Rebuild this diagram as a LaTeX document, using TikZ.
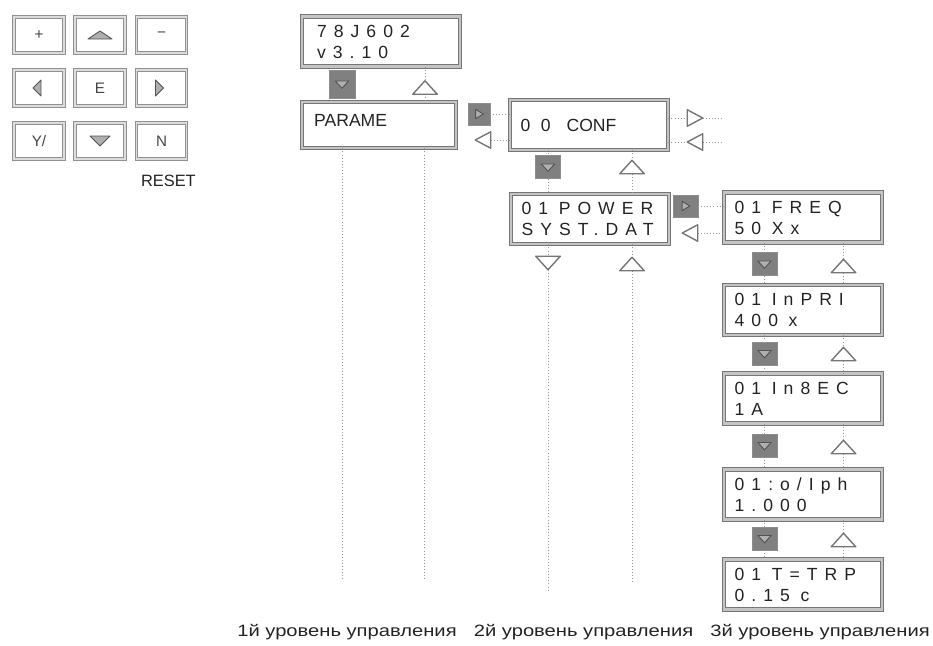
\documentclass[tikz,border=0pt]{standalone}
\usepackage{fontspec}
\setmainfont{Liberation Sans}
\newfontfamily\lcdfont[LetterSpace=40]{Liberation Sans}
\newfontfamily\capfont[FakeStretch=1.23]{Liberation Sans}
\usetikzlibrary{positioning}
\definecolor{cFrame}{RGB}{118,118,118}
\definecolor{cGap}  {RGB}{196,196,196}
\definecolor{cKey}  {RGB}{128,128,128}
\definecolor{cKeyTr}{RGB}{175,175,175}
\definecolor{cDot}  {RGB}{150,150,150}
\definecolor{cInk}  {RGB}{35,35,35}

%% blank between letterspaced groups
\newcommand\lsp{\hspace{0.6em}}
%% triangle marks drawn on empty named nodes
\newcommand\triU[1]{\draw[tri] (#1.south west) -- (#1.south east) -- (#1.north) -- cycle;}
\newcommand\triD[1]{\draw[tri] (#1.north west) -- (#1.north east) -- (#1.south) -- cycle;}
\newcommand\triL[1]{\draw[tri] (#1.north east) -- (#1.south east) -- (#1.west) -- cycle;}
\newcommand\triR[1]{\draw[tri] (#1.north west) -- (#1.south west) -- (#1.east) -- cycle;}
\newcommand\keyD[1]{\draw[ktri] ([shift={(-0.2cm,0.09cm)}]#1.center) -- ([shift={(0.2cm,0.09cm)}]#1.center) -- ([shift={(0cm,-0.13cm)}]#1.center) -- cycle;}
\newcommand\keyR[1]{\draw[ktri] ([shift={(-0.1cm,0.14cm)}]#1.center) -- ([shift={(-0.1cm,-0.14cm)}]#1.center) -- ([shift={(0.13cm,0cm)}]#1.center) -- cycle;}

\begin{document}
\begin{tikzpicture}[x=0.03cm, y=-0.03cm, font=\fontsize{15}{18}\selectfont]

%% ── shared styles ─────────────────────────────────────────────────────────
\tikzset{
  lcd/.style={
    rectangle, draw=cFrame, double=cGap, double distance=2.2pt, line width=0.7pt,
    minimum width=4.74cm, minimum height=1.5cm,
    text width=4.1cm, inner xsep=0pt, inner ysep=2pt, align=left,
    font=\lcdfont\fontsize{15}{18}\selectfont, text=cInk
  },
  pad/.style={
    rectangle, draw=cFrame!80, double=cGap!60, double distance=1.6pt, line width=0.6pt,
    minimum width=1.5cm, minimum height=1.08cm, inner sep=0pt,
    font=\fontsize{13}{15}\selectfont, text=cInk!85
  },
  gkey/.style={
    rectangle, fill=cKey, draw=cKey!90, line width=0.4pt, inner sep=0pt,
    minimum width=0.75cm, minimum height=0.69cm
  },
  vtri/.style={inner sep=0pt, minimum width=0.72cm, minimum height=0.39cm},
  htri/.style={inner sep=0pt, minimum width=0.45cm, minimum height=0.48cm},
  tri/.style ={draw=cFrame, fill=white, line width=1.2pt, line join=round},
  ktri/.style={draw=cFrame!70!black, fill=cKeyTr, line width=0.8pt, line join=round},
  dots/.style={cDot, dotted, line width=0.6pt},
  lvl/.style ={font=\capfont\fontsize{14}{16}\selectfont, text=cInk, inner sep=0pt},
}

\useasboundingbox (0,0) rectangle (933,645);

%% ── key pad ───────────────────────────────────────────────────────────────
\node[pad] (kPlus)  at ( 39, 35) {+};
\node[pad] (kUp)    at (100, 35) {};
\node[pad] (kMinus) at (161.5, 35) {−};
\node[pad] (kLeft)  at ( 39, 88) {};
\node[pad] (kEnt)   at (100, 88) {E};
\node[pad] (kRight) at (161.5, 88) {};
\node[pad] (kYes)   at ( 39,141) {Y/};
\node[pad] (kDown)  at (100,141) {};
\node[pad] (kNo)    at (161.5,141) {N};
\node[font=\fontsize{14}{16}\selectfont, text=cInk, anchor=east, inner sep=0pt]
  (reset) at (196,181) {RESET};

\draw[ktri] ([shift={(-12,4)}]kUp.center) -- ([shift={(12,4)}]kUp.center)
            -- ([shift={(0,-4)}]kUp.center) -- cycle;
\draw[ktri] ([shift={(-10,-5)}]kDown.center) -- ([shift={(10,-5)}]kDown.center)
            -- ([shift={(0,5)}]kDown.center) -- cycle;
\draw[ktri] ([shift={(2,-8)}]kLeft.center) -- ([shift={(2,8)}]kLeft.center)
            -- ([shift={(-6,0)}]kLeft.center) -- cycle;
\draw[ktri] ([shift={(-6,-8)}]kRight.center) -- ([shift={(-6,8)}]kRight.center)
            -- ([shift={(2,0)}]kRight.center) -- cycle;

%% ══════════════════════════════════════════════════════════════════════════
%% LEVEL 1
%% ══════════════════════════════════════════════════════════════════════════
\node[lcd]                 (dVer) at (381, 41.5) {\hspace{0.25em}78J602\\\hspace{0.25em}v3.10};
\node[lcd, minimum width=4.62cm, minimum height=1.38cm]
                           (dPar) at (379,125)   {\normalfont\hspace{0.2em}PARAME\\[-10pt]\mbox{}};

\node[gkey, minimum width=0.78cm, minimum height=0.84cm] (sA) at (342, 84) {};
\node[vtri]                (uA)   at (425, 87.5) {};
\node[gkey, minimum width=0.66cm, minimum height=0.66cm] (rA) at (479,114) {};
\node[htri]                (lA)   at (483,140) {};

\coordinate (eA1) at (342,580);
\coordinate (eA2) at (424,580);

%% ══════════════════════════════════════════════════════════════════════════
%% LEVEL 2
%% ══════════════════════════════════════════════════════════════════════════
\node[lcd]                 (dConf) at (589,125) {0\lsp0\hspace{0.9em}{\normalfont CONF}};
\node[lcd]                 (dPow)  at (590,219) {01\lsp POWER\\SYST.DAT};

\node[htri]                (rC)   at (695,118) {};
\node[htri]                (lC)   at (695,142) {};
\coordinate (rCend) at (722,118);
\coordinate (lCend) at (722,142);

\node[gkey]                (sB)   at (548,167) {};
\node[vtri]                (uB)   at (632,167) {};
\node[gkey, minimum width=0.75cm, minimum height=0.66cm] (rB) at (685.5,206) {};
\node[htri]                (lB)   at (690,233) {};

\node[vtri]                (dC1)  at (548,263) {};
\node[vtri]                (uC1)  at (632,264) {};
\coordinate (eC1) at (548,590);
\coordinate (eC2) at (632,583);

%% ══════════════════════════════════════════════════════════════════════════
%% LEVEL 3
%% ══════════════════════════════════════════════════════════════════════════
\node[lcd]                 (dFreq) at (803,217.5) {01\lsp FREQ\\50\lsp Xx};
\node[lcd]                 (dPri)  at (803,310)   {01\lsp InPRI\\400\lsp x};
\node[lcd]                 (dSec)  at (803,398.5) {01\lsp In8EC\\1A};
\node[lcd]                 (dIph)  at (803,494.5) {01:o/Iph\\1.000};
\node[lcd]                 (dTrp)  at (803,584.5) {01\lsp T=TRP\\0.15\lsp c};

\node[gkey]                (s1)   at (764.5,264)   {};
\node[vtri]                (u1)   at (843.5,266)   {};
\node[gkey]                (s2)   at (764.5,353.5) {};
\node[vtri]                (u2)   at (843.5,354)   {};
\node[gkey]                (s3)   at (764.5,445.5) {};
\node[vtri]                (u3)   at (843.5,447)   {};
\node[gkey]                (s4)   at (764.5,538.5) {};
\node[vtri]                (u4)   at (843.5,540)   {};

%% ── dotted connectors ─────────────────────────────────────────────────────
\draw[dots] (dVer.south -| uA) -- (uA) -- (dPar.north -| uA);
\draw[dots] (dPar.south -| eA1) -- (eA1);
\draw[dots] (dPar.south -| eA2) -- (eA2);
\draw[dots] (rA) -- (rA -| dConf.west);
\draw[dots] (lA) -- (lA -| dConf.west);

\draw[dots] (rC -| dConf.east) -- (rC) -- (rCend);
\draw[dots] (lC -| dConf.east) -- (lC) -- (lCend);
\draw[dots] (dConf.south -| sB) -- (sB) -- (dPow.north -| sB);
\draw[dots] (dConf.south -| uB) -- (uB) -- (dPow.north -| uB);
\draw[dots] (rB) -- (rB -| dFreq.west);
\draw[dots] (lB) -- (lB -| dFreq.west);
\draw[dots] (dPow.south -| dC1) -- (dC1) -- (eC1);
\draw[dots] (dPow.south -| uC1) -- (uC1) -- (eC2);

\draw[dots] (dFreq.south -| s1) -- (s1) -- (dPri.north -| s1);
\draw[dots] (dFreq.south -| u1) -- (u1) -- (dPri.north -| u1);
\draw[dots] (dPri.south -| s2)  -- (s2) -- (dSec.north -| s2);
\draw[dots] (dPri.south -| u2)  -- (u2) -- (dSec.north -| u2);
\draw[dots] (dSec.south -| s3)  -- (s3) -- (dIph.north -| s3);
\draw[dots] (dSec.south -| u3)  -- (u3) -- (dIph.north -| u3);
\draw[dots] (dIph.south -| s4)  -- (s4) -- (dTrp.north -| s4);
\draw[dots] (dIph.south -| u4)  -- (u4) -- (dTrp.north -| u4);

%% ── marks on keys and triangles ──────────────────────────────────────────
\keyD{sA} \keyD{sB} \keyD{s1} \keyD{s2} \keyD{s3} \keyD{s4}
\keyR{rA} \keyR{rB}
\triU{uA} \triU{uB} \triU{uC1} \triU{u1} \triU{u2} \triU{u3} \triU{u4}
\triD{dC1}
\triL{lA} \triL{lB} \triL{lC}
\triR{rC}

%% ── level captions ───────────────────────────────────────────────────────
\node[lvl, anchor=east]        (lvl3) at (930,632) {3й уровень управления};
\node[lvl, left=0.5cm of lvl3] (lvl2) {2й уровень управления};
\node[lvl, left=0.5cm of lvl2] (lvl1) {1й уровень управления};

\end{tikzpicture}
\end{document}
